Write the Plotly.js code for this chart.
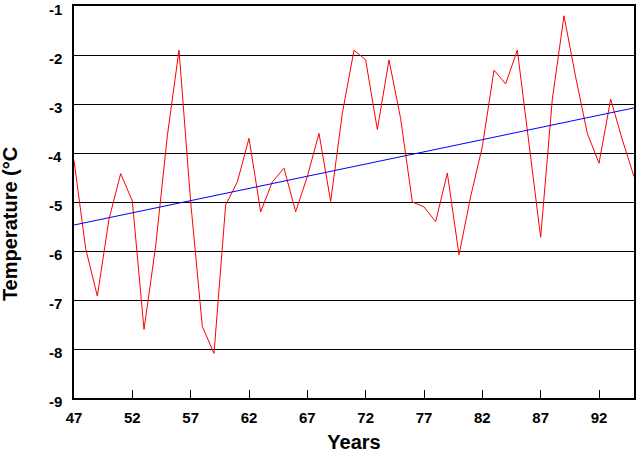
<!DOCTYPE html>
<html>
<head>
<meta charset="utf-8">
<script src="https://cdn.plot.ly/plotly-3.0.1.min.js"></script>
<style>html,body{margin:0;padding:0;background:#fff;}#chart{width:636px;height:459px;}</style>
</head>
<body>
<div id="chart"></div>
<script>
const years = [47,48,49,50,51,52,53,54,55,56,57,58,59,60,61,62,63,64,65,66,67,68,69,70,71,72,73,74,75,76,77,78,79,80,81,82,83,84,85,86,87,88,89,90,91,92,93,94,95];
const temperature = [-4.15,-5.95,-6.92,-5.35,-4.42,-4.98,-7.6,-5.9,-3.65,-1.9,-5.0,-7.54,-8.09,-5.06,-4.59,-3.7,-5.2,-4.59,-4.31,-5.2,-4.48,-3.6,-4.99,-3.19,-1.9,-2.1,-3.52,-2.1,-3.3,-5.0,-5.1,-5.4,-4.41,-6.08,-4.89,-3.87,-2.31,-2.59,-1.9,-3.87,-5.72,-2.9,-1.2,-2.45,-3.6,-4.21,-2.9,-3.73,-4.48];
const trendYears = [47, 95];
const trendValues = [-5.47, -3.08];
const xTicks = [47,52,57,62,67,72,77,82,87,92];
const yTicks = [-9,-8,-7,-6,-5,-4,-3,-2,-1];

const font = {family: 'Liberation Sans, Arial, sans-serif', color: '#000'};
const bold = (size) => Object.assign({size: size, weight: 'bold'}, font);

const yLabelAnnotations = yTicks.map(v => ({
  text: String(v), showarrow: false,
  xref: 'paper', yref: 'y', x: 0, y: v,
  xanchor: 'right', yanchor: 'middle', xshift: -10, yshift: -3,
  font: bold(15)
}));

Plotly.newPlot('chart', [
  {x: years, y: temperature, type: 'scatter', mode: 'lines', line: {color: '#ff0000', width: 1}, hoverinfo: 'skip'},
  {x: trendYears, y: trendValues, type: 'scatter', mode: 'lines', line: {color: '#0000ff', width: 1}, hoverinfo: 'skip'}
], {
  width: 636, height: 459,
  margin: {l: 74, r: 2, t: 6, b: 61},
  paper_bgcolor: '#fff', plot_bgcolor: '#fff',
  showlegend: false,
  xaxis: {
    range: [47, 95], tickvals: xTicks, ticktext: xTicks.map(String),
    ticks: 'inside', ticklen: 8, tickwidth: 1, tickcolor: '#000',
    showgrid: false, zeroline: false,
    showline: true, linecolor: '#000', linewidth: 2, mirror: true,
    tickfont: bold(15),
    ticklabelstandoff: 5,
    title: {text: 'Years', font: bold(20), standoff: 10}
  },
  yaxis: {
    range: [-9, -1], tickvals: yTicks,
    ticks: '', showticklabels: false,
    showgrid: true, gridcolor: '#000', gridwidth: 1, zeroline: false,
    showline: true, linecolor: '#000', linewidth: 2, mirror: true
  },
  annotations: yLabelAnnotations.concat([{
    text: 'Temperature (°C', textangle: -90, showarrow: false,
    xref: 'paper', yref: 'paper', x: -0.114, y: 0.444, xanchor: 'center', yanchor: 'middle',
    font: bold(20)
  }])
}, {displayModeBar: false, staticPlot: true});
</script>
</body>
</html>
